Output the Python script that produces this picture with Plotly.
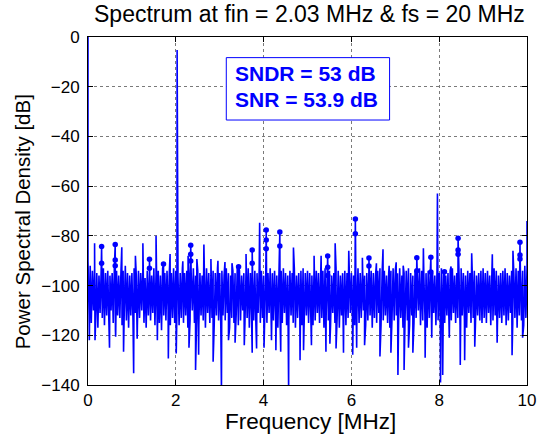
import plotly.graph_objects as go

# ---- data -----------------------------------------------------------------
fin_mhz = 2.03
tone_db = -5.2
dc_db = 0.0

# noise floor: upper / lower excursions sampled every 0.05 MHz
step = 0.05
floor_top = [
    -90, -92, -94, -93, -95, -96, -94, -93, -95, -94, -96, -95, -93, -94, -96, -95, -94, -92, -95, -96,
    -95, -93, -96, -94, -95, -93, -97, -94, -95, -96, -93, -95, -94, -96, -93, -95, -94, -96, -95, -93,
    -94, -96, -95, -93, -95, -94, -96, -95, -93, -96, -94, -95, -96, -94, -93, -95, -96, -94, -95, -93,
    -95, -94, -96, -93, -95, -96, -94, -95, -93, -94, -96, -95, -94, -93, -95, -96, -94, -95, -93, -94,
    -96, -94, -95, -93, -95, -94, -96, -95, -94, -93, -95, -96, -94, -95, -93, -96, -95, -94, -93, -95,
    -94, -95, -96, -93, -94, -95, -96, -94, -93, -95, -94, -96, -95, -93, -94, -96, -95, -94, -95, -93,
    -95, -96, -94, -93, -95, -94, -96, -95, -93, -94, -95, -96, -94, -93, -95, -94, -96, -95, -94, -93,
    -94, -95, -93, -96, -95, -94, -93, -95, -96, -94, -95, -93, -94, -96, -95, -94, -93, -95, -96, -94,
    -95, -93, -94, -96, -95, -94, -93, -96, -95, -94, -93, -95, -96, -94, -95, -93, -94, -96, -95, -94,
    -93, -95, -94, -96, -95, -93, -94, -96, -95, -94, -93, -95, -96, -94, -95, -93, -94, -95, -94, -92,
    -93,
]
floor_bottom = [
    -112, -115, -110, -114, -117, -111, -113, -116, -112, -114, -110, -115, -118, -112, -113, -116, -111, -114, -117, -112,
    -114, -111, -116, -113, -110, -115, -117, -112, -114, -111, -116, -113, -115, -118, -112, -114, -110, -116, -113, -115,
    -111, -116, -113, -115, -112, -117, -114, -110, -115, -113, -116, -112, -114, -117, -111, -115, -113, -116, -112, -114,
    -116, -112, -114, -111, -117, -113, -115, -112, -116, -114, -110, -115, -113, -117, -112, -114, -116, -111, -115, -113,
    -113, -115, -111, -116, -114, -112, -117, -113, -115, -111, -116, -114, -112, -115, -117, -113, -111, -116, -114, -112,
    -115, -112, -116, -114, -111, -115, -113, -117, -112, -114, -116, -111, -115, -113, -117, -112, -114, -116, -113, -111,
    -114, -116, -112, -115, -113, -110, -116, -114, -112, -117, -113, -115, -111, -116, -114, -112, -115, -117, -113, -114,
    -112, -115, -113, -117, -111, -114, -116, -112, -115, -113, -110, -116, -114, -112, -117, -113, -115, -111, -116, -114,
    -116, -113, -115, -112, -117, -114, -111, -115, -113, -116, -112, -114, -117, -111, -115, -113, -116, -112, -114, -115,
    -113, -115, -111, -116, -114, -112, -117, -113, -115, -112, -116, -114, -111, -115, -113, -117, -112, -114, -116, -113,
]

# isolated bins rising above the floor
spike_freq = [0.15, 0.77, 1.08, 1.25, 1.55, 1.87, 2.16, 2.28, 2.48, 2.64, 2.80, 2.96, 3.12, 3.28,
              3.60, 3.91, 4.68, 5.15, 5.31, 5.63, 5.94, 6.25, 6.57, 6.72, 6.86, 7.02, 7.18, 7.64,
              7.96, 8.27, 8.74, 9.21, 9.68, 10.0]
spike_db = [-83, -84.6, -88, -83, -80, -87.3, -90.2, -88, -89.3, -83.5, -89.3, -90, -90.5, -91,
            -87.3, -74.7, -84.7, -88, -88, -83, -86, -88.8, -91, -85.4, -92, -90.6, -92, -85,
            -63, -92.3, -87, -87.4, -86, -74]

# isolated bins falling below the floor
dip_freq = [0.03, 0.16, 0.49, 0.63, 0.81, 1.04, 1.12, 1.58, 1.83, 2.01, 2.30, 2.45, 2.52, 2.85,
            3.04, 3.20, 3.35, 3.56, 3.74, 3.84, 4.01, 4.18, 4.28, 4.39, 4.57, 4.83, 4.91, 5.09,
            5.42, 5.51, 5.65, 5.82, 6.03, 6.12, 6.30, 6.65, 6.90, 7.06, 7.20, 7.30, 7.40, 7.68,
            7.83, 8.03, 8.08, 8.23, 8.48, 8.58, 8.81, 9.32, 9.66, 9.90]
dip_db = [-122, -122, -125, -120.6, -126.6, -135.3, -121.4, -122, -129.3, -127.3, -125, -134, -127.8, -130.6,
          -142, -122, -123, -124, -127, -125.3, -125, -122, -126, -126.6, -142, -130, -126, -124,
          -126.6, -123.4, -125.3, -127, -127.8, -125, -124, -128.5, -127, -136, -134, -125, -127, -129,
          -121, -139, -136, -121, -132, -130, -124.6, -123, -128, -121]

# harmonic / spur bins marked with circles
harm_freq = [0.31, 0.62, 1.40, 1.72, 2.34, 3.43, 3.74, 4.06, 4.37, 5.46, 6.09, 6.40,
             7.49, 7.81, 8.12, 8.43, 9.84]
harm_db = [
    [-84.3, -91.0],
    [-83.5, -89.7, -92.0],
    [-89.4, -93.0],
    [-91.3],
    [-83.8, -87.4, -90.1],
    [-92.4],
    [-85.7, -91.0],
    [-77.6, -81.7, -85.2],
    [-78.4, -84.1],
    [-88.1, -92.6, -95.9],
    [-73.2, -79.2],
    [-88.9, -92.1],
    [-88.8, -94.0],
    [-88.6, -94.5],
    [-94.4],
    [-81.0, -85.7, -87.4],
    [-82.6, -87.7, -89.3],
]

sndr_db = 53
snr_db = 53.9

# ---- assemble spectrum trace ----------------------------------------------
pts = []
for i, v in enumerate(floor_top):
    pts.append((round(i * step, 4), v))
for i, v in enumerate(floor_bottom):
    pts.append((round(i * step + step / 2, 4), v))
pts += list(zip(spike_freq, spike_db))
pts += list(zip(dip_freq, dip_db))
pts += [(f, max(lv)) for f, lv in zip(harm_freq, harm_db)]
pts.append((fin_mhz, tone_db))
pts.sort(key=lambda p: p[0])
pts = [(0.0, dc_db)] + pts

spec_x = [p[0] for p in pts]
spec_y = [p[1] for p in pts]

mk_x = [f for f, lv in zip(harm_freq, harm_db) for _ in lv]
mk_y = [v for lv in harm_db for v in lv]

BLUE = "#0000ff"
FONT = "Liberation Sans, Arial, Helvetica, sans-serif"

# plot area in pixels (used to place titles in paper units)
W, H = 546, 440
L, R, T, B = 88, 10, 37, 55
PW, PH = W - L - R, H - T - B


def px_x(p):
    return (p - L) / PW


def px_y(p):
    return (H - B - p) / PH


fig = go.Figure()
fig.add_trace(go.Scatter(x=spec_x, y=spec_y, mode="lines",
                         line=dict(color=BLUE, width=1.6, simplify=False), hoverinfo="skip"))
fig.add_trace(go.Scatter(x=mk_x, y=mk_y, mode="markers",
                         marker=dict(color=BLUE, size=5.5, line=dict(width=0))))

axis_common = dict(
    showline=True, linecolor="black", linewidth=1, mirror="ticks",
    ticks="inside", ticklen=5, tickcolor="black",
    showgrid=True, gridcolor="#7a7a7a", griddash="dot", gridwidth=1,
    zeroline=False, tickfont=dict(family=FONT, size=17, color="black"),
)

fig.update_xaxes(range=[0, 10], dtick=2, tick0=0, **axis_common)
fig.update_yaxes(range=[-140, 0], dtick=20, tick0=0, ticklabelstandoff=4, **axis_common)

# SNDR / SNR box
fig.add_shape(type="rect", xref="x", yref="y", x0=3.15, x1=6.87, y0=-8.3, y1=-33.4,
              line=dict(color=BLUE, width=1), fillcolor="white", layer="above")
fig.add_annotation(x=3.3, y=-14.6, xref="x", yref="y", xanchor="left", yanchor="middle",
                   text=f"SNDR = {sndr_db} dB", showarrow=False,
                   font=dict(family=FONT, size=21, color=BLUE, weight="bold"))
fig.add_annotation(x=3.3, y=-25.1, xref="x", yref="y", xanchor="left", yanchor="middle",
                   text=f"SNR = {snr_db} dB", showarrow=False,
                   font=dict(family=FONT, size=21, color=BLUE, weight="bold"))

# titles
fig.add_annotation(x=px_x(314), y=px_y(14), xref="paper", yref="paper",
                   text=f"Spectrum at fin = {fin_mhz:.2f} MHz & fs = 20 MHz", showarrow=False,
                   xanchor="center", yanchor="middle",
                   font=dict(family=FONT, size=23, color="black"))
fig.add_annotation(x=px_x(315), y=px_y(421), xref="paper", yref="paper",
                   text="Frequency [MHz]", showarrow=False, xanchor="center", yanchor="middle",
                   font=dict(family=FONT, size=22.5, color="black"))
fig.add_annotation(x=px_x(22), y=px_y(222), xref="paper", yref="paper",
                   text="Power Spectral Density [dB]", showarrow=False, textangle=-90,
                   xanchor="center", yanchor="middle",
                   font=dict(family=FONT, size=20.5, color="black"))

fig.update_layout(
    width=W, height=H,
    margin=dict(l=L, r=R, t=T, b=B),
    paper_bgcolor="white", plot_bgcolor="white",
    showlegend=False,
)

fig.write_html("out.html")
